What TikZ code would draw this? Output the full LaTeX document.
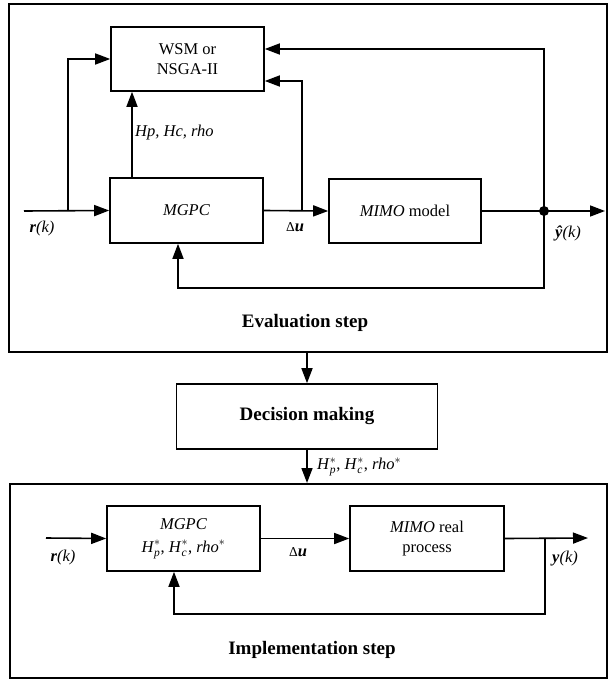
\documentclass[tikz,border=0pt]{standalone}
\usepackage{amsmath}
\usepackage{fontspec}
\setmainfont{Liberation Serif}
\usetikzlibrary{positioning,arrows.meta,calc}

\newcommand{\Hopt}[2]{\textit{#1}$_{\textit{#2}}^{*}$}
\newcommand{\dlt}{{\fontsize{13.5}{14}\selectfont Δ}}

\begin{document}
\begin{tikzpicture}[x=1pt,y=-1pt,
blk/.style={
  draw,
  line width=1.6pt,
  minimum width=153pt,
  minimum height=64pt,
  inner sep=2pt,
  align=center,
  font=\fontsize{16.5}{20}\selectfont},
stepframe/.style={
  draw,
  line width=2pt,
  inner sep=0pt},
sig/.style={
  line width=1.6pt,
  -{Triangle[length=15pt,width=11pt]}},
lbl/.style={
  font=\fontsize{16.5}{20}\selectfont,
  inner sep=1pt},
steptitle/.style={
  font=\fontsize{19}{23}\selectfont\bfseries},
jdot/.style={
  circle,
  fill=black,
  inner sep=0pt,
  minimum size=10pt}
]
\useasboundingbox (0,0) rectangle (608,679);
% the two steps
\node[stepframe, minimum width=598pt, minimum height=348pt] (eval) at (308,178) {};
\node[stepframe, minimum width=597pt, minimum height=194pt] (impl) at (308.5,581) {};
% evaluation step
\node[blk] (wsm) at (187.5,59) {WSM or\\NSGA-II};
\node[blk, minimum height=65pt] (mgpc) at (186.5,210.5) {\textit{MGPC}};
\node[blk, minimum width=152pt] (mimo) at (405,211) {\textit{MIMO} model};
\coordinate (rin) at (24,211);
\coordinate (rbr) at (68,211);
\coordinate (hp) at (132,0);
\coordinate (du) at (302,211);
\coordinate (jn) at (544,211);
\coordinate (yhat) at (605,211);
\coordinate (fb) at (544,288);
\draw[sig] (rin) -- (mgpc.west);
\draw[sig] (rbr) |- (wsm.west);
\draw[sig] (hp |- mgpc.north) -- (hp |- wsm.south);
\draw[sig] (mgpc.east) -- (mimo.west);
\draw[sig] (du) |- ([yshift=-22pt]wsm.east);
\draw[sig] (mimo.east) -- (yhat);
\draw[sig] (jn) |- ([yshift=10pt]wsm.east);
\draw[sig] (jn) -- (fb) -| ([xshift=-8.5pt]mgpc.south);
\node[jdot] at (jn) {};
\node[lbl] at (42,229) {\textbf{\textit{r}}\textit{(k)}};
\node[lbl] at (295,227) {\dlt\textbf{\textit{u}}};
\node[lbl] at (568,233) {\textbf{\textit{ŷ}}\textit{(k)}};
\node[lbl, anchor=west] at (134,133) {\textit{Hp, Hc, rho}};
\node[steptitle] at (305,323) {Evaluation step};
% decision
\node[blk, minimum width=261pt, minimum height=65pt,
  font=\fontsize{19}{23}\selectfont\bfseries] (dec) at (307,416.5) {Decision making};
\draw[sig] (eval.south -| dec.north) -- (dec.north);
\draw[sig] (dec.south) -- (impl.north -| dec.south);
\node[lbl, anchor=west] at (316,467) {\Hopt{H}{p}, \Hopt{H}{c}, \textit{rho}$^{*}$};
% implementation step
\node[blk, minimum height=65pt] (mgpc2) at (183.5,538.5)
  {\textit{MGPC}\\[3pt]\Hopt{H}{p}, \Hopt{H}{c}, \textit{rho}$^{*}$};
\node[blk, minimum width=154pt, minimum height=65pt] (proc) at (427,538.5)
  {\textit{MIMO} real\\process};
\coordinate (rin2) at (46,538);
\coordinate (br2) at (545,538);
\coordinate (yout) at (588,538);
\coordinate (fb2) at (545,614);
\draw[sig] (rin2) -- (mgpc2.west);
\draw[sig] (mgpc2.east) -- (proc.west);
\draw[sig] (proc.east) -- (yout);
\draw[sig] (br2) -- (fb2) -| ([xshift=-9.5pt]mgpc2.south);
\node[lbl] at (63,558) {\textbf{\textit{r}}\textit{(k)}};
\node[lbl] at (298,552) {\dlt\textbf{\textit{u}}};
\node[lbl] at (565,559) {\textbf{\textit{y}}\textit{(k)}};
\node[steptitle] at (312,650) {Implementation step};
\end{tikzpicture}
\end{document}
